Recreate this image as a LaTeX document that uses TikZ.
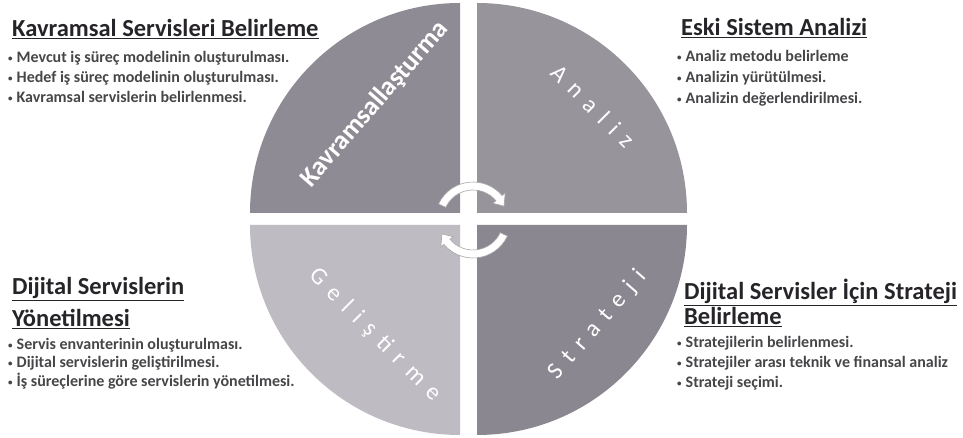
\documentclass[tikz,border=0pt]{standalone}
\usepackage{fontspec}
\setmainfont{Carlito}
\newfontfamily\spacedfont[LetterSpace=40]{Carlito}
\usetikzlibrary{calc}
\definecolor{quadTL}{HTML}{8F8B94}
\definecolor{quadTR}{HTML}{98949C}
\definecolor{quadBL}{HTML}{BEBBC2}
\definecolor{quadBR}{HTML}{8B8790}
\definecolor{inkdark}{HTML}{262428}
% small list bullet
\def\bul{\raisebox{1.5pt}{\fontsize{9}{9}\selectfont•}\hspace{4pt}}
% ring arrow: centre, start angle, end angle (clockwise), mid radius, half width
\def\ringarrow[#1](#2)(#3:#4:#5:#6){\filldraw[#1] ($(#2)+(#3:#5+#6)$) arc (#3:#4:#5+#6) -- ($(#2)+(#4:#5+2*#6)$) -- ($(#2)+(#4-16:#5)$) -- ($(#2)+(#4:#5-2*#6)$) -- ($(#2)+(#4:#5-#6)$) arc (#4:#3:#5-#6) -- cycle;}

\begin{document}
\begin{tikzpicture}[x=1pt,y=1pt,
  heading/.style={anchor=base west,inner sep=0pt,font=\bfseries\fontsize{24.5}{26}\selectfont,text=inkdark},
  item/.style={anchor=base west,inner sep=0pt,font=\bfseries\fontsize{16}{18}\selectfont,text=inkdark!85},
  quadlabel/.style={inner sep=0pt,text=white},
  spaced/.style={font=\spacedfont\fontsize{24}{26}\selectfont}]
		%%%%% START %%%%%
		\useasboundingbox (0,0) rectangle (963,438);
		
		% four quarters of the wheel, pulled apart
		\fill[quadTL] (460,225) -- (250,225) arc (180:90:210) -- cycle;
		\fill[quadTR] (477,225) -- (477,435) arc (90:0:210) -- cycle;
		\fill[quadBL] (460,213) -- (460,3) arc (270:180:210) -- cycle;
		\fill[quadBR] (477,213) -- (687,213) arc (0:-90:210) -- cycle;
		
		\node[quadlabel,rotate=49,font=\bfseries\fontsize{26.5}{28}\selectfont] (kavram) at (375,334) {Kavramsallaşturma};
		\node[quadlabel,spaced,rotate=-45] (analiz) at (593,332) {Analiz};
		\node[quadlabel,spaced,rotate=-45] (gelis) at (375,103) {Geliştirme};
		\node[quadlabel,spaced,rotate=49] (strat) at (598,113) {Strateji};
		
		% cycle arrows in the middle
		\coordinate (hub) at (473,218);
		\ringarrow[fill=white,draw=black!35,line width=0.6pt](hub)(155:40:34:4);
		\ringarrow[fill=white,draw=black!35,line width=0.6pt](hub)(-25:-140:34:4);
		
		% top left
		\node[heading] (kavH) at (12,401) {\underline{Kavramsal Servisleri Belirleme}};
		\node[item] (kav1) at (8,375) {\bul Mevcut iş süreç modelinin oluşturulması.};
		\node[item] (kav2) at (8,355) {\bul Hedef iş süreç modelinin oluşturulması.};
		\node[item] (kav3) at (8,335) {\bul Kavramsal servislerin belirlenmesi.};
		
		% top right
		\node[heading] (eskH) at (681,402) {\underline{Eski Sistem Analizi}};
		\node[item] (esk1) at (677,376) {\bul Analiz metodu belirleme};
		\node[item] (esk2) at (677,355) {\bul Analizin yürütülmesi.};
		\node[item] (esk3) at (677,334) {\bul Analizin değerlendirilmesi.};
		
		% bottom left
		\node[heading] (yonH) at (12,143) {\underline{Dijital Servislerin}};
		\node[heading] (yonH2) at (12,111) {\underline{Yönetilmesi}};
		\node[item] (yon1) at (8,88) {\bul Servis envanterinin oluşturulması.};
		\node[item] (yon2) at (8,70) {\bul Dijital servislerin geliştirilmesi.};
		\node[item] (yon3) at (8,51) {\bul İş süreçlerine göre servislerin yönetilmesi.};
		
		% bottom right
		\node[heading] (strH) at (684,138) {\underline{Dijital Servisler İçin Strateji}};
		\node[heading] (strH2) at (684,113) {\underline{Belirleme}};
		\node[item] (str1) at (677,90) {\bul Stratejilerin belirlenmesi.};
		\node[item] (str2) at (677,70) {\bul Stratejiler arası teknik ve finansal analiz};
		\node[item] (str3) at (677,50) {\bul Strateji seçimi.};
		
		%%%%% END %%%%%
	\end{tikzpicture}
\end{document}
